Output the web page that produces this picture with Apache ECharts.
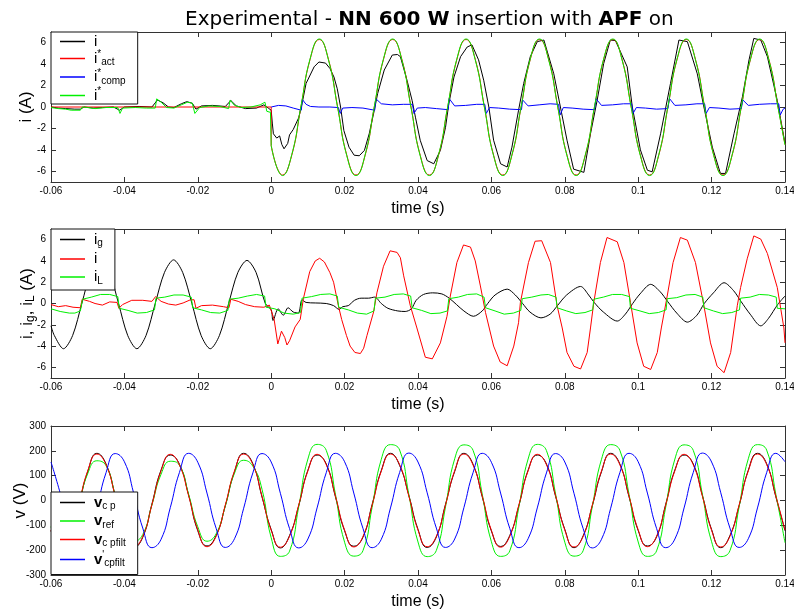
<!DOCTYPE html>
<html><head><meta charset="utf-8">
<script src="https://cdn.jsdelivr.net/npm/echarts@6/dist/echarts.min.js"></script>
<style>html,body{margin:0;padding:0;background:#fff}#c{width:794px;height:612px}</style>
</head><body><div id="c"></div><script>
// ---------- tick labels ----------
const xTicks = [-0.06,-0.04,-0.02,0,0.02,0.04,0.06,0.08,0.1,0.12,0.14];
const iTicks = [-6,-4,-2,0,2,4,6];
const vTicks = [-300,-200,-100,0,100,200,300];

// ---------- panel 1 : i, i*act, i*comp, i* ----------
const p1_i = [[-0.06,0.0],[-0.058,-0.1],[-0.056,-0.15],[-0.0535,-0.2],[-0.052,-0.2],[-0.051,0.0],[-0.0485,-0.1],[-0.046,-0.05],[-0.043,0.0],[-0.0413,-0.3],[-0.04,0.0],[-0.036,0.05],[-0.0325,0.0],[-0.031,0.65],[-0.0295,0.4],[-0.028,0.0],[-0.0265,-0.05],[-0.0245,0.3],[-0.023,0.5],[-0.0215,0.35],[-0.0205,-0.2],[-0.019,0.1],[-0.016,0.15],[-0.0125,0.05],[-0.011,0.6],[-0.0095,0.1],[-0.007,-0.15],[-0.004,-0.1],[-0.002,0.2],[-0.0008,-0.1],
[0,-0.3],[0.0003,-1.5],[0.0006,-2.5],[0.0015,-2.9],[0.0023,-2.7],[0.0029,-3.5],[0.0035,-3.9],[0.0045,-3.4],[0.005,-2.6],[0.006,-2.1],[0.0075,-1.0],[0.0084,0.3],[0.0095,2.2],[0.0117,3.75],[0.013,4.2],[0.0148,4.1],[0.016,3.6],[0.0171,2.8],[0.018,1.7],[0.0189,0.0],[0.0198,-2.2],[0.0212,-3.75],[0.0226,-4.5],[0.024,-4.55],[0.0254,-4.05],[0.0267,-2.5],[0.0281,-0.3],[0.029,1.25],[0.0308,3.45],[0.033,4.85],[0.0344,4.9],[0.0352,4.7],[0.037,2.5],[0.0384,0.6],[0.0393,-0.95],[0.0406,-3.1],[0.0425,-5.0],[0.0443,-5.3],[0.0461,-4.05],[0.0475,-1.9],[0.0484,0.3],[0.0498,2.8],[0.0516,4.7],[0.0534,5.6],[0.0547,5.8],[0.0565,4.4],[0.0579,2.5],[0.0593,0.0],[0.0606,-3.1],[0.0625,-5.3],[0.0643,-5.6],[0.0656,-3.75],[0.0674,-0.3],[0.0688,2.2],[0.0706,4.7],[0.0725,6.1],[0.0743,6.25],[0.077,3.1],[0.0788,0.0],[0.0806,-3.1],[0.0824,-5.8],[0.0852,-6.1],[0.087,-2.5],[0.0888,0.6],[0.0906,4.06],[0.0924,6.25],[0.0938,6.2],[0.097,3.75],[0.0984,0.0],[0.1006,-4.0],[0.1025,-5.9],[0.1038,-6.05],[0.1061,-2.5],[0.1088,2.2],[0.1111,6.25],[0.1134,6.1],[0.1161,3.1],[0.1179,0.0],[0.1202,-3.75],[0.1224,-6.2],[0.1238,-6.2],[0.1261,-2.5],[0.1284,0.95],[0.1302,4.4],[0.1315,6.4],[0.1334,6.25],[0.1352,4.7],[0.1379,0.6],[0.14,-3.4]];

const p1_actPre = [[-0.06,0],[0,0],[0,-3.6]];
const p1_refPre = [[-0.06,-0.05],[-0.058,-0.15],[-0.056,-0.2],[-0.0545,-0.3],[-0.052,-0.3],[-0.0515,0.0],[-0.05,-0.05],[-0.048,-0.15],[-0.045,-0.05],[-0.0418,-0.05],[-0.0412,-0.6],[-0.0405,-0.1],[-0.037,-0.05],[-0.034,-0.1],[-0.0316,-0.1],[-0.0312,0.76],[-0.03,0.45],[-0.0285,-0.05],[-0.0265,-0.1],[-0.0245,0.2],[-0.0228,0.45],[-0.0215,0.35],[-0.0208,-0.6],[-0.0195,-0.05],[-0.017,0.1],[-0.014,0.05],[-0.0116,-0.15],[-0.0112,0.65],[-0.01,0.15],[-0.008,-0.05],[-0.0055,0.0],[-0.003,0.2],[-0.0017,0.45],[-0.0012,-0.4],[-0.0002,-0.5],[0,-3.6]];

const tAct = [0,0.0031,0.0056,0.0081,0.0106,0.0131,0.0156,0.0181,0.0206,0.0231,0.0256,0.0281,0.0306,0.0331,0.0356,0.0381,0.0406,0.0431,0.0456,0.0481,0.0506,0.0531,0.0556,0.0581,0.0606,0.0631,0.0656,0.0681,0.0706,0.0731,0.0756,0.0781,0.0806,0.0831,0.0856,0.0881,0.0906,0.0931,0.0956,0.0981,0.1006,0.1031,0.1056,0.1081,0.1106,0.1131,0.1156,0.1181,0.1206,0.1231,0.1256,0.1281,0.1306,0.1331,0.1356,0.1381,0.14];
const iActPost = [-3.6,
 -6.35,-4.5,0,4.45,6.3,4.45,0,-4.5,
 -6.35,-4.5,0,4.45,6.3,4.45,0,-4.5,
 -6.35,-4.5,0,4.45,6.3,4.45,0,-4.5,
 -6.35,-4.5,0,4.45,6.3,4.45,0,-4.5,
 -6.35,-4.5,0,4.45,6.3,4.45,0,-4.5,
 -6.35,-4.5,0,4.45,6.3,4.45,0,-4.5,
 -6.35,-4.5,0,4.45,6.3,4.45,0,
 -3.5];
const iRefPost = [-3.6,
 -6.4,-4.45,0.05,4.5,6.35,4.4,-0.05,-4.55,
 -6.4,-4.45,0.05,4.5,6.35,4.4,-0.05,-4.55,
 -6.4,-4.45,0.05,4.5,6.35,4.4,-0.05,-4.55,
 -6.4,-4.45,0.05,4.5,6.35,4.4,-0.05,-4.55,
 -6.4,-4.45,0.05,4.5,6.35,4.4,-0.05,-4.55,
 -6.4,-4.45,0.05,4.5,6.35,4.4,-0.05,-4.55,
 -6.4,-4.45,0.05,4.5,6.35,4.4,-0.05,
 -3.55];

const p1_comp = [[0,0.0],[0.002,0.15],[0.004,0.1],[0.006,-0.1],[0.0082,-0.3],[0.0085,0.7],[0.0095,0.25],[0.0107,0.05],[0.013,0.0],[0.016,0.0],[0.0183,-0.05],[0.0188,-0.6],[0.0195,-0.1],[0.022,-0.05],[0.025,-0.1],[0.0282,-0.3],[0.0285,0.78],[0.03,0.3],[0.033,0.2],[0.036,0.25],[0.0385,0.25],[0.0389,-0.6],[0.0398,-0.1],[0.042,-0.05],[0.045,-0.15],[0.0482,-0.25],[0.0485,0.78],[0.05,0.1],[0.053,0.15],[0.056,0.25],[0.0582,0.25],[0.0586,-0.6],[0.0595,-0.05],[0.062,-0.1],[0.065,-0.2],[0.0682,-0.25],[0.0685,0.66],[0.07,0.1],[0.073,0.2],[0.076,0.3],[0.0783,0.25],[0.0787,-0.75],[0.0796,-0.05],[0.082,-0.1],[0.085,-0.2],[0.0881,-0.25],[0.0885,0.78],[0.09,0.15],[0.093,0.2],[0.096,0.3],[0.0982,0.3],[0.0986,-0.6],[0.0995,-0.05],[0.102,-0.1],[0.105,-0.2],[0.1081,-0.15],[0.1085,0.8],[0.11,0.15],[0.113,0.2],[0.116,0.3],[0.1181,0.3],[0.1185,-0.6],[0.1194,-0.05],[0.122,-0.1],[0.125,-0.2],[0.1281,-0.15],[0.1285,0.66],[0.13,0.15],[0.133,0.25],[0.136,0.3],[0.1383,0.3],[0.1387,-0.75],[0.1395,-0.2],[0.14,-0.1]];

// ---------- panel 2 : ig, i, iL ----------
const p2_ig = [[-0.06,-2.1],[-0.0591,-3.0],[-0.0566,-4.25],[-0.0541,-3.0],[-0.0516,0.0],[-0.0491,3.0],[-0.0466,4.2],[-0.0441,3.0],[-0.0416,0.0],[-0.0391,-3.0],[-0.0366,-4.25],[-0.0341,-3.0],[-0.0316,0.0],[-0.0291,2.9],[-0.0266,4.1],[-0.0241,2.9],[-0.0216,0.0],[-0.0191,-3.0],[-0.0166,-4.25],[-0.0141,-3.0],[-0.0116,0.0],[-0.0091,2.9],[-0.0066,4.05],[-0.0041,2.9],[-0.0016,0.0],
[0,-0.6],[0.0005,-1.6],[0.0019,-0.5],[0.0033,-1.1],[0.0046,-0.4],[0.006,-0.8],[0.0074,-0.9],[0.0084,0.35],[0.0095,0.1],[0.012,0.05],[0.015,0.0],[0.017,-0.2],[0.0185,-0.55],[0.0195,-0.3],[0.021,-0.2],[0.0227,0.3],[0.0245,0.5],[0.0265,0.5],[0.0282,0.6],[0.03,0.0],[0.0318,-0.45],[0.0345,-0.7],[0.0365,-0.75],[0.0382,-0.5],[0.0395,0.3],[0.0415,0.85],[0.044,1.0],[0.0465,0.9],[0.0485,0.5],[0.0505,-0.1],[0.0525,-0.7],[0.0551,-1.2],[0.0575,-0.7],[0.059,0.0],[0.061,0.8],[0.0643,1.35],[0.0665,0.8],[0.0685,0.0],[0.0705,-0.8],[0.0735,-1.35],[0.076,-1.0],[0.078,-0.2],[0.0805,0.8],[0.0843,1.6],[0.0865,0.8],[0.088,0.1],[0.0905,-0.8],[0.0943,-1.65],[0.0965,-1.0],[0.0985,0.0],[0.1005,0.9],[0.1034,1.8],[0.106,1.1],[0.108,0.2],[0.1105,-0.9],[0.1134,-1.75],[0.116,-1.1],[0.118,0.0],[0.1205,1.0],[0.1234,1.95],[0.126,1.2],[0.128,0.2],[0.1305,-1.0],[0.1334,-2.1],[0.1355,-1.4],[0.138,-0.1],[0.14,0.7]];

const p2_i = [[-0.06,-0.1],[-0.058,-0.3],[-0.056,-0.2],[-0.054,-0.35],[-0.052,-0.4],[-0.0515,0.4],[-0.0495,0.2],[-0.048,0.0],[-0.046,-0.15],[-0.044,0.15],[-0.042,0.1],[-0.0415,-0.45],[-0.0405,-0.1],[-0.038,0.3],[-0.035,0.3],[-0.0325,0.2],[-0.0315,0.65],[-0.03,0.2],[-0.028,-0.05],[-0.026,-0.15],[-0.024,0.05],[-0.022,0.35],[-0.021,0.35],[-0.0205,-0.45],[-0.019,-0.2],[-0.016,-0.15],[-0.013,-0.3],[-0.0115,-0.4],[-0.011,0.4],[-0.009,0.2],[-0.007,-0.1],[-0.0045,-0.3],[-0.002,-0.35],[-0.0005,-0.15],
[0,-0.3],[0.0008,-1.5],[0.0018,-3.8],[0.0028,-2.6],[0.0037,-3.2],[0.0043,-3.9],[0.005,-3.5],[0.0065,-2.2],[0.0079,-1.5],[0.0088,0.5],[0.0105,3.0],[0.012,4.0],[0.0132,4.25],[0.0145,3.9],[0.016,2.9],[0.017,2.0],[0.0183,-0.2],[0.0192,-1.5],[0.0205,-3.0],[0.0215,-4.0],[0.0228,-4.6],[0.0243,-4.7],[0.0252,-4.2],[0.0261,-3.0],[0.0279,-0.8],[0.0288,1.0],[0.0306,3.5],[0.0324,4.95],[0.0343,4.8],[0.0352,4.3],[0.0361,2.6],[0.0379,-0.2],[0.0397,-2.3],[0.042,-5.05],[0.0439,-5.2],[0.0461,-3.7],[0.0479,-1.2],[0.0488,0.7],[0.0506,3.85],[0.0524,5.5],[0.0543,5.3],[0.0556,4.0],[0.057,1.65],[0.0584,-0.85],[0.0606,-4.0],[0.0624,-5.5],[0.0643,-5.85],[0.0661,-4.0],[0.0674,-1.8],[0.0679,0.1],[0.0701,3.85],[0.0719,5.85],[0.0737,5.9],[0.0761,3.85],[0.0779,-0.2],[0.0793,-2.3],[0.0806,-4.6],[0.0825,-5.9],[0.0843,-6.15],[0.0861,-4.6],[0.087,-2.3],[0.0879,0.1],[0.0897,3.85],[0.0915,6.2],[0.0943,5.8],[0.0961,3.85],[0.0979,0.1],[0.0997,-3.7],[0.1015,-5.9],[0.1034,-6.2],[0.1052,-4.6],[0.1063,-2.3],[0.1079,0.7],[0.1095,3.85],[0.1115,6.2],[0.1134,5.95],[0.1156,3.85],[0.1179,-0.2],[0.1197,-3.7],[0.1215,-5.9],[0.1234,-6.5],[0.1252,-4.6],[0.127,-0.2],[0.1279,1.5],[0.1297,4.2],[0.1315,6.35],[0.1334,6.05],[0.1352,4.7],[0.1379,1.5],[0.1397,-2.3],[0.14,-3.7]];

const p2_iL = [[-0.06,-0.5],[-0.0575,-0.75],[-0.055,-0.9],[-0.0535,-0.9],[-0.052,-0.7],[-0.0516,-0.65],[-0.0514,0.4],[-0.049,0.6],[-0.0465,0.85],[-0.044,0.85],[-0.0418,0.65],[-0.0414,-0.45],[-0.039,-0.65],[-0.0365,-0.9],[-0.034,-0.85],[-0.0318,-0.6],[-0.0314,0.5],[-0.029,0.6],[-0.0265,0.8],[-0.024,0.8],[-0.0218,0.6],[-0.0214,-0.4],[-0.019,-0.6],[-0.0165,-0.85],[-0.014,-0.9],[-0.0118,-0.65],[-0.0114,0.4],[-0.009,0.5],[-0.0065,0.7],[-0.004,0.85],[-0.0018,0.7],[-0.0014,-0.35],[0.001,-0.5],[0.0035,-0.9],[0.006,-1.0],[0.008,-0.85],[0.0084,0.5],[0.011,0.65],[0.0135,0.85],[0.016,0.9],[0.018,0.7],[0.0184,-0.35],[0.021,-0.6],[0.0235,-0.9],[0.026,-1.0],[0.028,-0.7],[0.0284,0.5],[0.031,0.6],[0.0335,0.85],[0.036,0.9],[0.038,0.7],[0.0384,-0.4],[0.041,-0.65],[0.0435,-0.95],[0.046,-0.9],[0.048,-0.7],[0.0484,0.45],[0.051,0.6],[0.0535,0.85],[0.056,0.9],[0.058,0.6],[0.0584,-0.4],[0.061,-0.7],[0.0635,-1.0],[0.066,-0.9],[0.068,-0.65],[0.0684,0.45],[0.071,0.6],[0.0735,0.8],[0.0755,0.85],[0.0776,0.6],[0.0779,-0.4],[0.0805,-0.7],[0.083,-0.95],[0.0855,-0.85],[0.0876,-0.6],[0.0879,0.4],[0.0905,0.6],[0.093,0.85],[0.0955,0.85],[0.0976,0.65],[0.0979,-0.45],[0.1005,-0.7],[0.103,-0.95],[0.1055,-0.85],[0.1076,-0.6],[0.1079,0.45],[0.1105,0.55],[0.113,0.8],[0.1155,0.85],[0.1176,0.6],[0.1179,-0.4],[0.1205,-0.7],[0.123,-0.95],[0.1255,-0.85],[0.1276,-0.6],[0.1279,0.5],[0.1305,0.6],[0.133,0.85],[0.1355,0.8],[0.1376,0.6],[0.1379,-0.45],[0.14,-0.5]];

// ---------- panel 3 : voltages on a 2.5 ms grid ----------
const tV = [-0.06,-0.0575,-0.055,-0.0525,-0.05,-0.0475,-0.045,-0.0425,-0.04,-0.0375,-0.035,-0.0325,-0.03,-0.0275,-0.025,-0.0225,-0.02,-0.0175,-0.015,-0.0125,-0.01,-0.0075,-0.005,-0.0025,0,0.0025,0.005,0.0075,0.01,0.0125,0.015,0.0175,0.02,0.0225,0.025,0.0275,0.03,0.0325,0.035,0.0375,0.04,0.0425,0.045,0.0475,0.05,0.0525,0.055,0.0575,0.06,0.0625,0.065,0.0675,0.07,0.0725,0.075,0.0775,0.08,0.0825,0.085,0.0875,0.09,0.0925,0.095,0.0975,0.1,0.1025,0.105,0.1075,0.11,0.1125,0.115,0.1175,0.12,0.1225,0.125,0.1275,0.13,0.1325,0.135,0.1375,0.14];
const vcp = [-121,-183,-140,-22,116,190,147,20,
 -117,-190,-148,-14,123,183,146,22,
 -122,-183,-141,-21,116,190,148,14,
 -117,-191,-141,-21,122,183,147,15,
 -122,-184,-148,-16,121,190,141,21,
 -116,-189,-147,-15,117,190,146,15,
 -123,-185,-141,-20,122,183,147,16,
 -116,-190,-142,-21,116,190,147,15,
 -121,-183,-147,-15,123,183,147,20,
 -117,-190,-141,-21,122,190,148,15,
 -122];
const vref = [-105,-163,-135,-20,108,160,140,22,
 -108,-165,-137,-18,106,158,142,25,
 -106,-164,-134,-22,110,162,138,45,
 -150,-225,-204,-25,167,226,202,25,
 -168,-224,-202,-27,166,225,203,24,
 -167,-226,-201,-25,168,224,202,26,
 -166,-225,-203,-25,167,226,201,25,
 -168,-224,-202,-24,166,225,202,25,
 -167,-225,-203,-26,167,224,202,24,
 -166,-226,-202,-25,168,225,203,25,
 -170];
const vcpfilt = [-119,-186,-144,-18,119,187,144,18,
 -120,-187,-145,-17,120,186,143,19,
 -118,-186,-144,-18,119,187,145,17,
 -120,-188,-144,-18,119,186,144,18,
 -119,-187,-145,-19,118,187,144,18,
 -119,-186,-144,-18,120,187,143,18,
 -120,-188,-144,-17,119,186,144,19,
 -119,-187,-145,-18,119,187,144,18,
 -118,-186,-144,-18,120,186,144,17,
 -120,-187,-144,-18,119,187,145,18,
 -119];
const vcpfiltP = [155,30,-112,-189,-155,-30,112,189,
 156,31,-111,-190,-156,-29,113,190,
 154,30,-112,-189,-154,-31,111,189,
 155,29,-113,-191,-155,-30,112,190,
 156,30,-112,-190,-156,-30,113,191,
 155,31,-111,-189,-155,-29,112,190,
 154,30,-112,-190,-154,-30,111,189,
 155,29,-113,-191,-156,-31,112,190,
 156,30,-112,-190,-155,-30,113,191,
 155,31,-111,-189,-154,-30,112,190,
 156];

// ---------- build ----------
const zip = (ts, vs) => ts.map((t, k) => [t, vs[k]]);
const FONT = '"Liberation Sans", Arial, sans-serif';
const TFONT = '"DejaVu Sans", "Liberation Sans", sans-serif';
const AX = '#333';
const BLACK = '#000000', RED = '#ff0000', BLUE = '#0000ff', GREEN = '#00f000';

const grids = [
  {left: 51, top: 32, width: 734, height: 150, outerBoundsMode: 'none', containLabel: false},
  {left: 51, top: 229, width: 734, height: 149, outerBoundsMode: 'none', containLabel: false},
  {left: 51, top: 426, width: 734, height: 149, outerBoundsMode: 'none', containLabel: false}
];
function fmtT(v) { return String(Math.round(v * 100) / 100); }
function xAx(g, bottom) {
  return {
    gridIndex: g, type: 'value', min: -0.06, max: 0.14, interval: 0.02,
    position: bottom ? 'bottom' : 'top',
    axisLine: {onZero: false, lineStyle: {color: AX, width: 1}},
    axisTick: {inside: true, length: 5, lineStyle: {color: AX}},
    axisLabel: bottom ? {show: true, margin: 4, fontSize: 10, color: '#000', fontFamily: FONT,
      showMinLabel: true, showMaxLabel: true, formatter: fmtT} : {show: false},
    splitLine: {show: false},
    name: bottom ? 'time (s)' : '', nameLocation: 'middle', nameGap: 19, nameMoveOverlap: false,
    nameTextStyle: {fontSize: 16, color: '#000', fontFamily: FONT}
  };
}
function yAx(g, left, min, max, ticks, name, gap, rich) {
  const o = {
    gridIndex: g, type: 'value', min: min, max: max, position: left ? 'left' : 'right',
    axisLine: {onZero: false, lineStyle: {color: AX, width: 1}},
    axisTick: {inside: true, length: 5, lineStyle: {color: AX}, customValues: ticks},
    axisLabel: left ? {show: true, margin: 5, fontSize: 10, color: '#000', fontFamily: FONT, customValues: ticks}
                    : {show: false},
    splitLine: {show: false}
  };
  if (left) {
    o.name = name; o.nameLocation = 'middle'; o.nameGap = gap; o.nameRotate = 90;
    o.nameMoveOverlap = false;
    o.nameTextStyle = {fontSize: 17, color: '#000', fontFamily: FONT, rich: rich || {}};
  }
  return o;
}

const ls = (c) => ({lineStyle: {color: c, width: 1}, itemStyle: {color: c}});
function line(name, g, data, color, smooth) {
  return Object.assign({type: 'line', name: name, xAxisIndex: g, yAxisIndex: g, data: data,
    showSymbol: false, symbol: 'none', smooth: smooth || false, animation: false, z: 2}, ls(color));
}

const series = [
  line('i', 0, p1_i, BLACK),
  line('i*act', 0, p1_actPre, RED),
  line('i*act', 0, zip(tAct, iActPost), RED, true),
  line('i*comp', 0, p1_comp, BLUE),
  line('i*', 0, p1_refPre, GREEN),
  line('i*', 0, zip(tAct, iRefPost), GREEN, true),
  line('ig', 1, p2_ig, BLACK, 0.3),
  line('i_2', 1, p2_i, RED),
  line('iL', 1, p2_iL, GREEN),
  line('vcp', 2, zip(tV, vcp), BLACK, true),
  line('vref', 2, zip(tV, vref), GREEN, true),
  line('vcpfilt', 2, zip(tV, vcpfilt), RED, true),
  line('vcpfiltP', 2, zip(tV, vcpfiltP), BLUE, true)
];

const legendText = {
  'i': '{m|i}',
  'i*act': '{m|i}{sp|*}{sb|act}',
  'i*comp': '{m|i}{sp|*}{sb|comp}',
  'i*': '{m|i}{sp|*}',
  'ig': '{m|i}{sb|g}',
  'i_2': '{m|i}',
  'iL': '{m|i}{sb|L}',
  'vcp': '{vb|v}{sb|c p}',
  'vref': '{vb|v}{sb|ref}',
  'vcpfilt': '{vb|v}{sb|c pfilt}',
  'vcpfiltP': "{vb|v}{sp|'}{sb|cpfilt}"
};
const richL = {
  m: {fontSize: 15, lineHeight: 18, fontFamily: FONT, color: '#000', padding: [0, 0, 0, 4]},
  vb: {fontSize: 15, lineHeight: 18, fontFamily: FONT, fontWeight: 'bold', color: '#000', padding: [0, 0, 0, 4]},
  sp: {fontSize: 10, lineHeight: 10, fontFamily: FONT, color: '#000', verticalAlign: 'top'},
  sb: {fontSize: 10, lineHeight: 10, fontFamily: FONT, color: '#000', verticalAlign: 'bottom'}
};
function leg(data, left, top, pad, gap) {
  return {
    data: data, left: left, top: top, orient: 'vertical', selectedMode: false,
    backgroundColor: '#fff', borderColor: '#111', borderWidth: 1, borderRadius: 0,
    padding: pad, itemGap: gap, itemWidth: 25, itemHeight: 1.5, icon: 'rect',
    formatter: (n) => legendText[n], textStyle: {rich: richL, fontFamily: FONT}, z: 10
  };
}

const option = {
  backgroundColor: '#fff',
  animation: false,
  title: {
    text: '{n|Experimental - }{b|NN 600 W}{n| insertion with }{b|APF}{n| on}',
    left: 180, top: 5,
    textStyle: {fontWeight: 'normal', fontSize: 20, fontFamily: TFONT, rich: {
      n: {fontSize: 20, fontFamily: TFONT, color: '#000', fontWeight: 'normal'},
      b: {fontSize: 20, fontFamily: TFONT, color: '#000', fontWeight: 'bold'}
    }}
  },
  grid: grids,
  xAxis: [xAx(0, true), xAx(1, true), xAx(2, true), xAx(0, false), xAx(1, false), xAx(2, false)],
  yAxis: [
    yAx(0, true, -7, 7, iTicks, 'i (A)', 16),
    yAx(1, true, -7, 7, iTicks, '{a|i, i}{s|g}{a|, i}{s|L}{a| (A)}', 14, {
      a: {fontSize: 17, lineHeight: 20, fontFamily: FONT, color: '#000'},
      s: {fontSize: 12, lineHeight: 12, fontFamily: FONT, color: '#000', verticalAlign: 'bottom'}
    }),
    yAx(2, true, -300, 300, vTicks, 'v (V)', 22),
    yAx(0, false, -7, 7, iTicks), yAx(1, false, -7, 7, iTicks), yAx(2, false, -300, 300, vTicks)
  ],
  legend: [
    leg(['i', 'i*act', 'i*comp', 'i*'], 51, 32, [2, 12, 1, 9], 0.5),
    leg(['ig', 'i_2', 'iL'], 51, 229, [3, 12, 4, 9], 3),
    leg(['vcp', 'vref', 'vcpfilt', 'vcpfiltP'], 51, 492, [3, 12, 6, 9], 2)
  ],
  series: series
};
const chart = echarts.init(document.getElementById('c'), null, {renderer: 'canvas'});
chart.setOption(option);
</script></body></html>
